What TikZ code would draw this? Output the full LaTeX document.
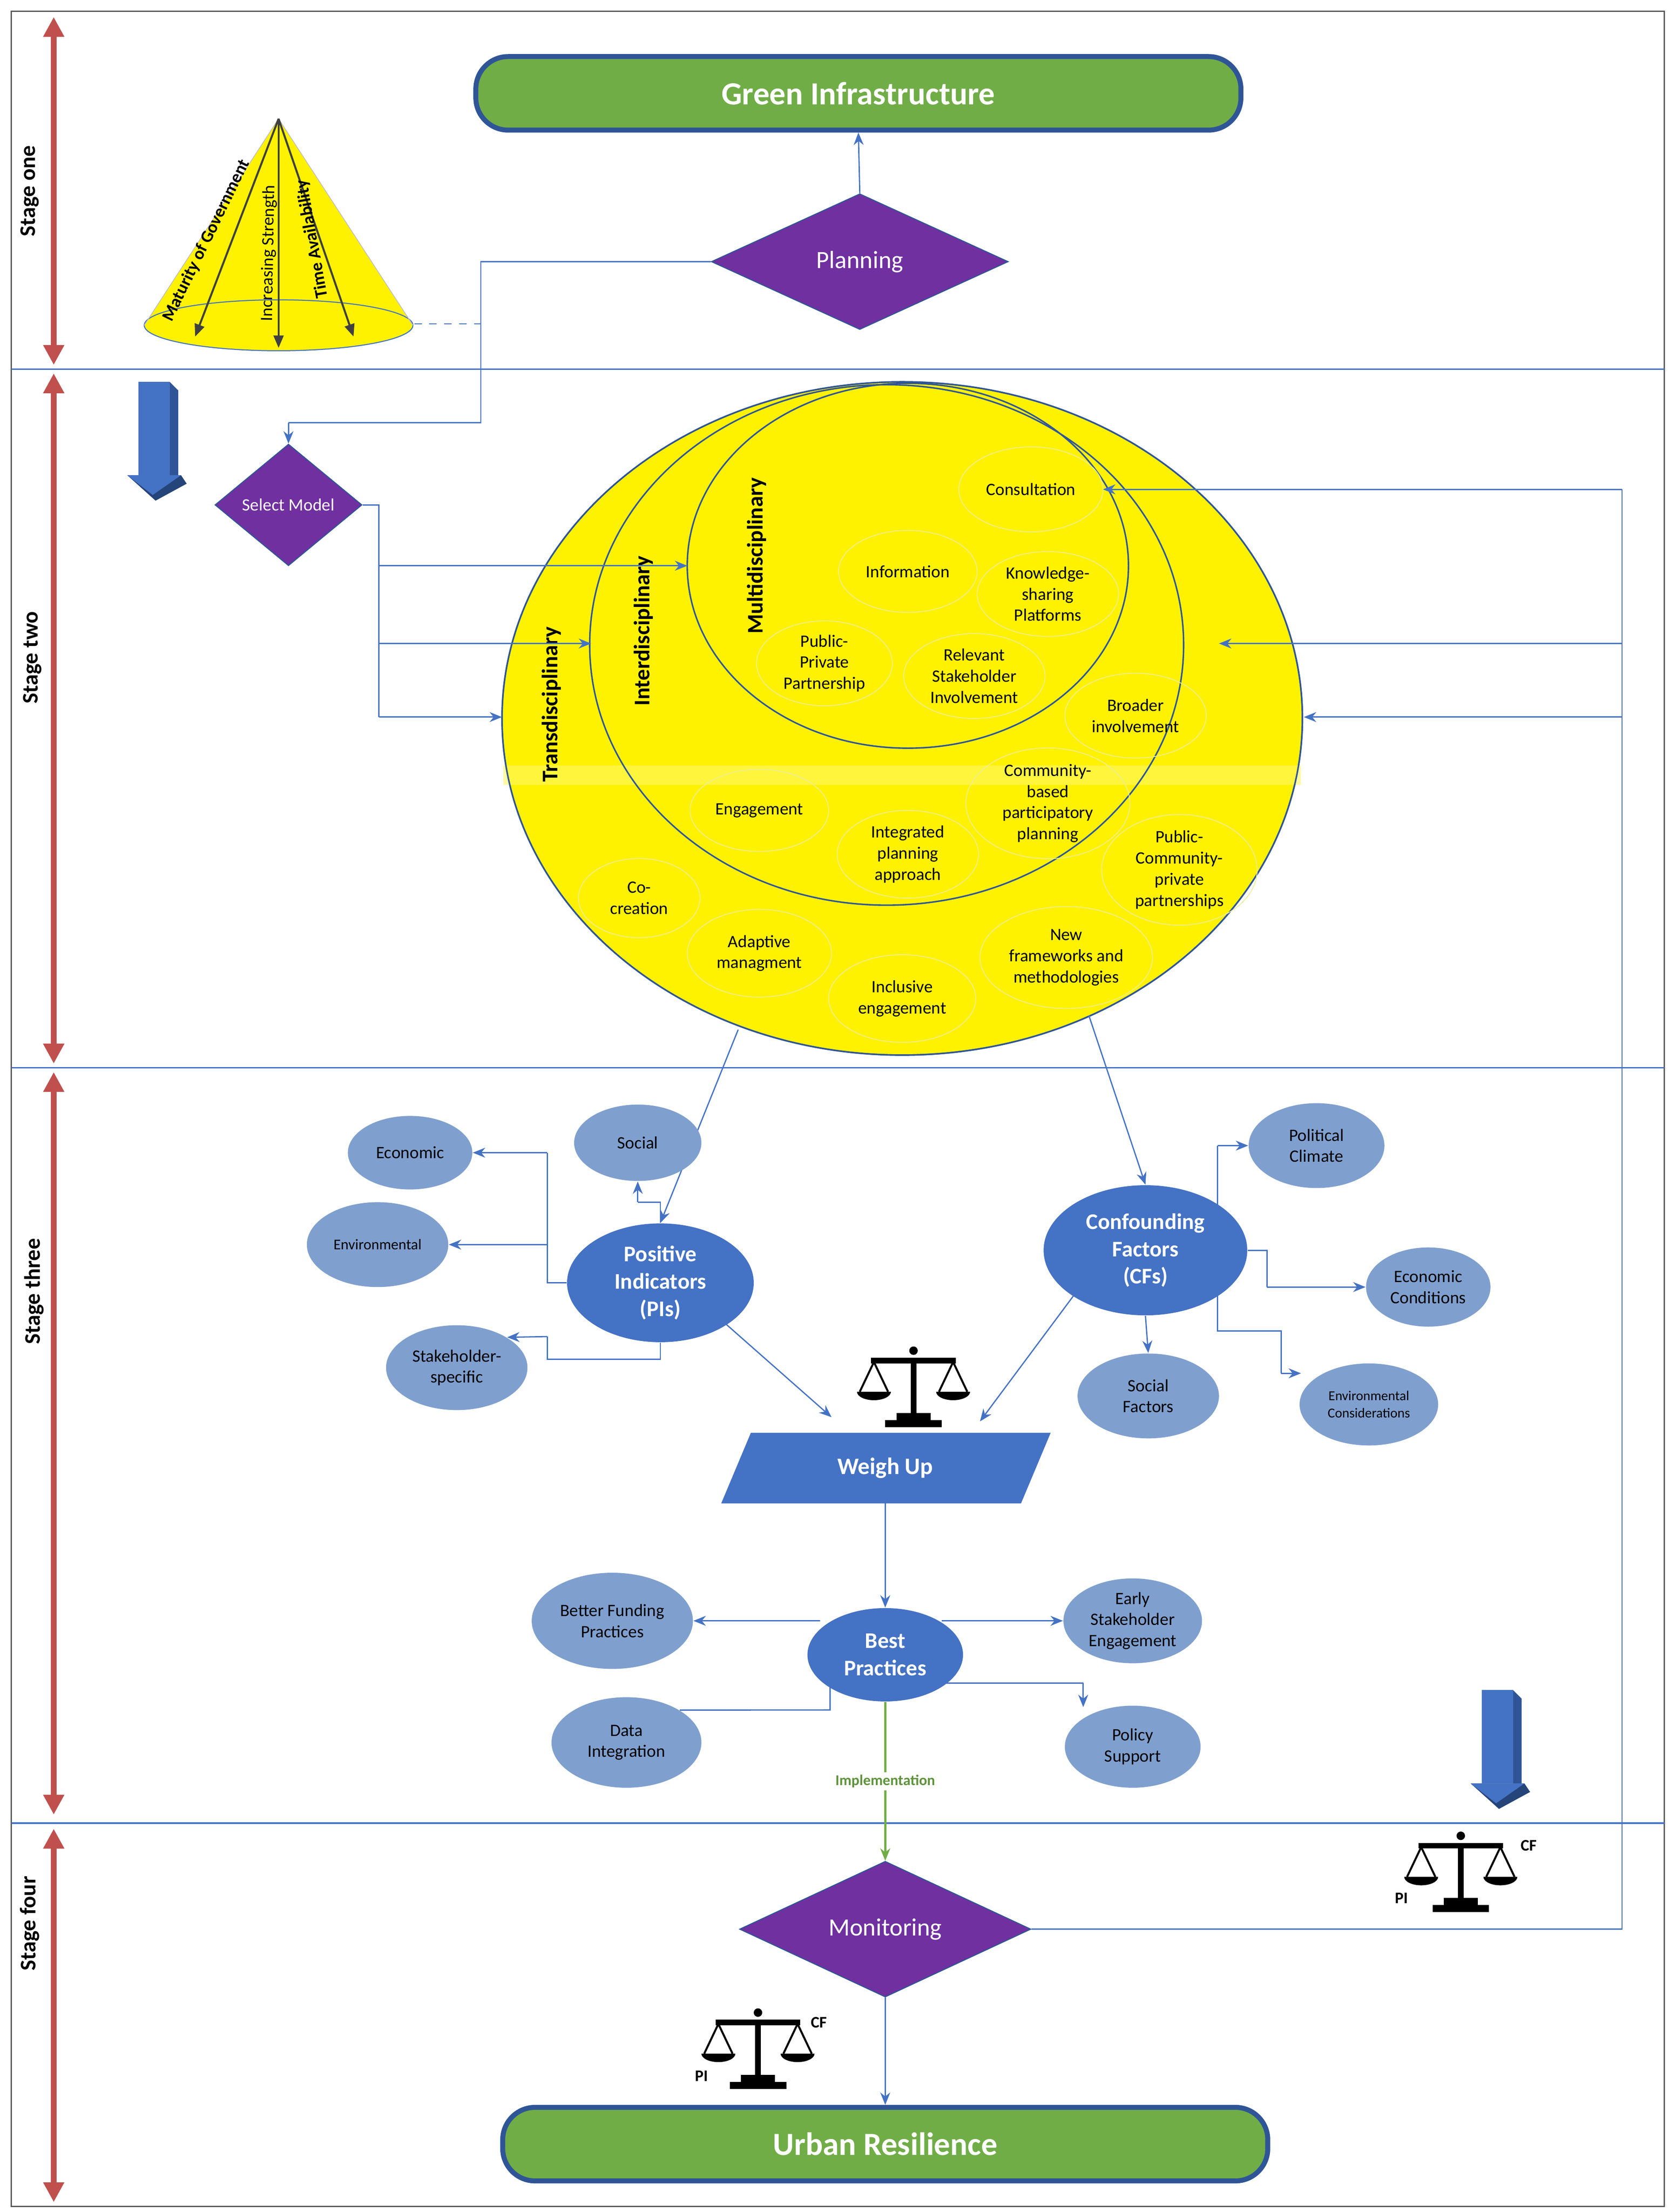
\documentclass[tikz,border=0pt]{standalone}
\usepackage{fontspec}
\setmainfont{Carlito}
\usetikzlibrary{shapes.geometric,arrows.meta}
\definecolor{gfill}{HTML}{70AD47}
\definecolor{dblue}{HTML}{2F5597}
\definecolor{mblue}{HTML}{4472C4}
\definecolor{lblue}{HTML}{7FA0CF}
\definecolor{purp}{HTML}{7030A0}
\definecolor{redl}{HTML}{C0504D}
\definecolor{ybord}{HTML}{EDED9A}
\tikzset{
 conn/.style={draw=mblue,line width=0.5pt},
 arr/.style={conn,-{Stealth[length=5pt,width=4pt]}},
 titlebox/.style={draw=dblue,line width=2pt,fill=gfill,rounded corners=13pt,text=white,font=\bfseries\fontsize{13}{15}\selectfont},
 dia/.style={diamond,fill=purp,draw=dblue,line width=0.4pt,aspect=2.2,inner sep=0pt,text=white},
 sm/.style={ellipse,draw=ybord,line width=0.3pt,align=center,font=\fontsize{7}{8.5}\selectfont,inner sep=0pt},
 lb/.style={ellipse,fill=lblue,align=center,font=\fontsize{7}{8.5}\selectfont,inner sep=0pt},
 db/.style={ellipse,fill=mblue,align=center,text=white,font=\bfseries\fontsize{9}{11}\selectfont,inner sep=0pt},
 stage/.style={rotate=90,font=\bfseries\fontsize{9}{11}\selectfont},
 redarr/.style={draw=redl,line width=2.2pt,{Triangle[length=8pt,width=8pt]}-{Triangle[length=8pt,width=8pt]}},
 scales/.pic={
  \fill (0,-27) circle (3);
  \fill (-30,-22) rectangle (30,-18);
  \fill (-2,-22) rectangle (2,22);
  \fill (-12,17) rectangle (12,22);
  \fill (-20,22) rectangle (20,27);
  \draw[line width=0.8pt] (-38,2)--(-28,-19)--(-18,2);
  \draw[line width=0.8pt] (38,2)--(28,-19)--(18,2);
  \fill (-40,2) arc[start angle=180,end angle=0,x radius=12,y radius=6]--cycle;
  \fill (16,2) arc[start angle=180,end angle=0,x radius=12,y radius=6]--cycle;
 }
}
\begin{document}
\begin{tikzpicture}[x=0.02cm,y=-0.02cm]
\useasboundingbox (0,0) rectangle (1185,1564);
\draw[gray!70!black,line width=0.5pt] (8,8) rectangle (1177,1560);
\foreach \yy in {261,755,1289}{\draw[mblue,line width=0.6pt] (8,\yy)--(1177,\yy);}
\draw[redarr] (38,12)--(38,258);
\draw[redarr] (38,264)--(38,752);
\draw[redarr] (38,758)--(38,1283);
\draw[redarr] (38,1293)--(38,1557);
\node[stage] at (21,135) {Stage one};
\node[stage] at (23,465) {Stage two};
\node[stage] at (24,913) {Stage three};
\node[stage] at (21,1360) {Stage four};

% stage one
\node[titlebox,minimum width=541*0.02cm,minimum height=52*0.02cm] (gi) at (607,66) {Green Infrastructure};
\node[dia,minimum width=210*0.02cm,minimum height=96*0.02cm,font=\fontsize{10}{12}\selectfont] (plan) at (608,185) {Planning};
\draw[arr] (plan.north)--(gi.south);
% cone
\fill[yellow] (102,230)--(197,84)--(292,230)--cycle;
\filldraw[fill=yellow,draw=mblue,line width=0.4pt] (197,230) ellipse (95 and 18);
\draw[black!25,line width=0.3pt] (102,230)--(197,84)--(292,230);
\coordinate (apex) at (197,84);
\coordinate (c1) at (138,238);\coordinate (c2) at (197,246);\coordinate (c3) at (250,238);
\draw[black!75,line width=0.8pt,-{Triangle[length=5pt,width=4pt]}] (apex)--(c1);
\draw[black!75,line width=0.8pt,-{Triangle[length=5pt,width=4pt]}] (apex)--(c2);
\draw[black!75,line width=0.8pt,-{Triangle[length=5pt,width=4pt]}] (apex)--(c3);
\node[rotate=64,font=\bfseries\fontsize{7}{8}\selectfont] at (146,170) {Maturity of Government};
\node[rotate=89,font=\fontsize{7}{8}\selectfont] at (190,179) {Increasing Strength};
\node[rotate=100,font=\bfseries\fontsize{7}{8}\selectfont] at (221,169) {Time Availability};
\coordinate (ce) at (293,229);\coordinate (ce2) at (340,229);
\draw[mblue,dashed,line width=0.5pt] (ce)--(ce2);

% stage two
\node[dia,minimum width=104*0.02cm,minimum height=86*0.02cm,font=\fontsize{7}{8}\selectfont] (sel) at (204,357) {Select Model};
\coordinate (p1) at (340,185);\coordinate (p2) at (340,299);\coordinate (p3) at (204,299);
\draw[conn] (plan.west)--(p1)--(p2)--(p3);
\draw[arr] (p3)--(sel.north);
% 3d arrows
\foreach \ax/\ay in {110/270,1060/1195}{
 \begin{scope}[shift={(\ax,\ay)}]
 \fill[dblue] (10,0)--(16,6)--(16,66)--(10,66)--cycle;
 \fill[mblue] (-12,0) rectangle (10,66);
 \fill[dblue!80!black] (-20,66)--(18,66)--(22,72)--(0,84)--cycle;
 \fill[mblue] (-20,66)--(18,66)--(-2,80)--cycle;
 \end{scope}}
% ellipses
\filldraw[fill=yellow,draw=dblue,line width=0.6pt] (638,508) ellipse (283 and 238);
\fill[yellow!60!white,opacity=0.6] (356,541) rectangle (920,555);
\draw[dblue,line width=0.6pt] (638,508) ellipse (283 and 238);
\draw[dblue,line width=0.6pt] (627,456) ellipse (210 and 184);
\draw[dblue,line width=0.6pt] (642,400) ellipse (156 and 129);
\node[rotate=90,font=\bfseries\fontsize{9}{11}\selectfont] at (390,498) {Transdisciplinary};
\node[rotate=90,font=\bfseries\fontsize{9}{11}\selectfont] at (455,446) {Interdisciplinary};
\node[rotate=90,font=\bfseries\fontsize{9}{11}\selectfont] at (535,393) {Multidisciplinary};
\node[sm,minimum width=102*0.02cm,minimum height=60*0.02cm] at (729,346) {Consultation};
\node[sm,minimum width=98*0.02cm,minimum height=58*0.02cm] at (642,404) {Information};
\node[sm,minimum width=100*0.02cm,minimum height=60*0.02cm] at (741,420) {Knowledge-\\sharing\\Platforms};
\node[sm,minimum width=96*0.02cm,minimum height=60*0.02cm] at (583,469) {Public-\\Private\\Partnership};
\node[sm,minimum width=100*0.02cm,minimum height=60*0.02cm] at (689,478) {Relevant\\Stakeholder\\Involvement};
\node[sm,minimum width=100*0.02cm,minimum height=60*0.02cm] at (803,506) {Broader\\involvement};
\node[sm,minimum width=98*0.02cm,minimum height=58*0.02cm] at (537,573) {Engagement};
\node[sm,minimum width=116*0.02cm,minimum height=72*0.02cm] at (741,568) {Community-\\based\\participatory\\planning};
\node[sm,minimum width=100*0.02cm,minimum height=62*0.02cm] at (642,604) {Integrated\\planning\\approach};
\node[sm,minimum width=110*0.02cm,minimum height=66*0.02cm] at (834,615) {Public-\\Community-\\private\\partnerships};
\node[sm,minimum width=86*0.02cm,minimum height=56*0.02cm] at (452,635) {Co-\\creation};
\node[sm,minimum width=102*0.02cm,minimum height=62*0.02cm] at (537,674) {Adaptive\\managment};
\node[sm,minimum width=122*0.02cm,minimum height=72*0.02cm] at (754,677) {New\\frameworks and\\methodologies};
\node[sm,minimum width=104*0.02cm,minimum height=62*0.02cm] at (638,706) {Inclusive\\engagement};
% select model lines
\coordinate (s1) at (268,357);\coordinate (s2) at (268,507);
\coordinate (m1) at (268,400);\coordinate (m2) at (268,455);
\coordinate (e1) at (486,400);\coordinate (e2) at (418,455);\coordinate (e3) at (355,507);
\draw[conn] (sel.east)--(s1)--(s2);
\draw[arr] (m1)--(e1);\draw[arr] (m2)--(e2);\draw[arr] (s2)--(e3);

% stage three
\node[db,minimum width=132*0.02cm,minimum height=84*0.02cm] (pi) at (467,907) {Positive\\Indicators\\(PIs)};
\node[db,minimum width=144*0.02cm,minimum height=92*0.02cm] (cf) at (810,884) {Confounding\\Factors\\(CFs)};
\coordinate (t1) at (522,728);\coordinate (t2) at (770,718);
\draw[arr] (t1)--(pi.north);\draw[arr] (t2)--(cf.north);
\node[lb,minimum width=88*0.02cm,minimum height=52*0.02cm] (eco) at (290,815) {Economic};
\node[lb,minimum width=90*0.02cm,minimum height=54*0.02cm] (soc) at (451,808) {Social};
\node[lb,minimum width=100*0.02cm,minimum height=60*0.02cm,font=\fontsize{6}{7}\selectfont] (env) at (267,880) {Environmental};
\node[lb,minimum width=100*0.02cm,minimum height=60*0.02cm] (sts) at (323,967) {Stakeholder-\\specific};
\node[lb,minimum width=96*0.02cm,minimum height=60*0.02cm] (pol) at (931,810) {Political\\Climate};
\node[lb,minimum width=88*0.02cm,minimum height=56*0.02cm] (ecc) at (1010,910) {Economic\\Conditions};
\node[lb,minimum width=100*0.02cm,minimum height=60*0.02cm] (sf) at (812,987) {Social\\Factors};
\node[lb,minimum width=98*0.02cm,minimum height=58*0.02cm,font=\fontsize{5.5}{7}\selectfont] (ec) at (968,993) {Environmental\\Considerations};
\coordinate (q1) at (387,907);\coordinate (q2) at (387,815);\coordinate (q3) at (387,880);
\draw[conn] (pi.west)--(q1)--(q2);\draw[arr] (q2)--(eco.east);\draw[arr] (q3)--(env.east);
\coordinate (q4) at (467,850);\coordinate (q5) at (451,850);
\draw[conn] (pi.north)--(q4)--(q5);\draw[arr] (q5)--(soc.south);
\coordinate (q6) at (467,961);\coordinate (q7) at (387,961);\coordinate (q8) at (387,945);
\draw[conn] (pi.south)--(q6)--(q7)--(q8);\draw[arr] (q8)--(sts.north east);
\coordinate (r1) at (896,884);\coordinate (r2) at (896,910);
\draw[conn] (cf.east)--(r1)--(r2);\draw[arr] (r2)--(ecc.west);
\coordinate (r3) at (861,858);\coordinate (r4) at (861,810);
\draw[conn] (r3)--(r4);\draw[arr] (r4)--(pol.west);
\coordinate (r5) at (861,910);\coordinate (r6) at (861,941);\coordinate (r7) at (906,941);\coordinate (r8) at (906,971);
\coordinate (r9) at (920,971);
\draw[conn] (r5)--(r6)--(r7)--(r8);\draw[arr] (r8)--(r9);
\draw[arr] (cf.south)--(sf.north);
\pic at (646,982) {scales};
\fill[mblue] (531,1013)--(743,1013)--(722,1063)--(510,1063)--cycle;
\node[text=white,font=\bfseries\fontsize{9.5}{11}\selectfont] (wu) at (626,1038) {Weigh Up};
\coordinate (wb) at (626,1063);
\coordinate (w1) at (588,1002);\coordinate (w2) at (693,1005);
\coordinate (pa) at (512,935);\coordinate (ca) at (760,915);
\draw[arr] (pa)--(w1);\draw[arr] (ca)--(w2);
\node[db,minimum width=110*0.02cm,minimum height=66*0.02cm] (bp) at (626,1170) {Best\\Practices};
\draw[arr] (wb)--(bp.north);
\node[lb,minimum width=114*0.02cm,minimum height=68*0.02cm] (bf) at (433,1146) {Better Funding\\Practices};
\node[lb,minimum width=98*0.02cm,minimum height=60*0.02cm] (es) at (801,1146) {Early\\Stakeholder\\Engagement};
\node[lb,minimum width=106*0.02cm,minimum height=64*0.02cm] (di) at (443,1232) {Data\\Integration};
\node[lb,minimum width=96*0.02cm,minimum height=58*0.02cm] (ps) at (801,1235) {Policy\\Support};
\coordinate (b1) at (580,1146);\coordinate (b2) at (666,1146);
\draw[arr] (b1)--(bf.east);\draw[arr] (b2)--(es.west);
\coordinate (b3) at (587,1190);\coordinate (b4) at (587,1209);
\draw[conn] (b3)--(b4)--(di.north east);
\coordinate (b5) at (666,1190);\coordinate (b6) at (766,1190);\coordinate (b7) at (766,1207);
\draw[conn] (b5)--(b6);\draw[arr] (b6)--(b7);

% stage four
\node[dia,minimum width=206*0.02cm,minimum height=96*0.02cm,font=\fontsize{10}{12}\selectfont] (mon) at (626,1364) {Monitoring};
\draw[draw=gfill,line width=0.8pt,-{Stealth[length=5pt,width=4pt]}] (bp.south)--(mon.north) node[pos=0.5,fill=white,inner sep=1pt,text=gfill!85!black,font=\bfseries\fontsize{6}{7}\selectfont] {Implementation};
\node[titlebox,minimum width=541*0.02cm,minimum height=52*0.02cm] (ur) at (626,1516) {Urban Resilience};
\draw[arr] (mon.south)--(ur.north);
% feedback
\coordinate (f1) at (1147,1364);\coordinate (f2) at (1147,346);
\coordinate (f3) at (1147,455);\coordinate (f4) at (1147,507);
\coordinate (g2) at (780,346);\coordinate (g3) at (862,455);\coordinate (g4) at (922,507);
\draw[conn] (mon.east)--(f1)--(f2);
\draw[arr] (f2)--(g2);
\draw[arr] (f3)--(g3);
\draw[arr] (f4)--(g4);
\pic at (1033,1325) {scales};
\node[font=\bfseries\fontsize{6.5}{8}\selectfont] at (991,1342) {PI};
\node[font=\bfseries\fontsize{6.5}{8}\selectfont] at (1081,1305) {CF};
\pic at (536,1450) {scales};
\node[font=\bfseries\fontsize{6.5}{8}\selectfont] at (496,1468) {PI};
\node[font=\bfseries\fontsize{6.5}{8}\selectfont] at (579,1430) {CF};
\end{tikzpicture}
\end{document}
